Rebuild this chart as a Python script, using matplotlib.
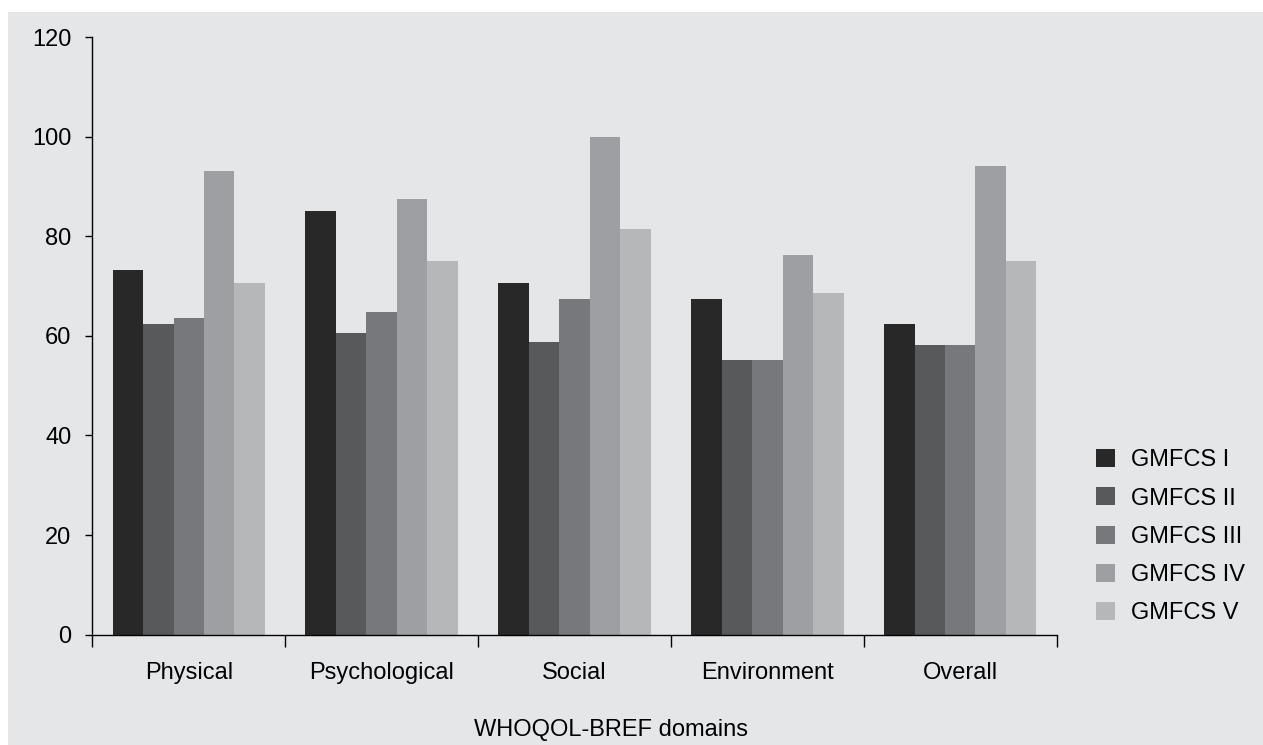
import matplotlib
matplotlib.use("Agg")
import matplotlib.pyplot as plt
import numpy as np
from matplotlib.patches import Rectangle

domains = ["Physical", "Psychological", "Social", "Environment", "Overall"]
series_names = ["GMFCS I", "GMFCS II", "GMFCS III", "GMFCS IV", "GMFCS V"]
gmfcs_1 = [73.2, 85.1, 70.6, 67.4, 62.3]
gmfcs_2 = [62.3, 60.5, 58.7, 55.1, 58.1]
gmfcs_3 = [63.6, 64.8, 67.4, 55.1, 58.1]
gmfcs_4 = [93.0, 87.5, 100.0, 76.2, 94.2]
gmfcs_5 = [70.6, 75.0, 81.5, 68.6, 75.0]
series_values = [gmfcs_1, gmfcs_2, gmfcs_3, gmfcs_4, gmfcs_5]
colors = ["#282828", "#58595b", "#77787b", "#9e9fa3", "#b6b7b9"]
y_ticks = [0, 20, 40, 60, 80, 100, 120]

plt.rcParams['font.family'] = ['Liberation Sans', 'DejaVu Sans']

W, H = 1263, 745
FS = 17
fig = plt.figure(figsize=(W / 100, H / 100), dpi=100, facecolor="white")
bg = "#e5e6e8"
fig.patches.append(Rectangle((8 / W, 0), 1 - 8 / W, 1 - 12 / H,
                             transform=fig.transFigure, facecolor=bg,
                             edgecolor="none", zorder=-10))

ax = fig.add_axes([92.3 / W, 110.3 / H, (1056.7 - 92.3) / W, (708 - 110.3) / H])
ax.set_facecolor("none")

n_groups = len(domains)
n_series = len(series_names)
bar_w = 0.158
centers = np.arange(n_groups) + 0.5
for i, (name, vals, c) in enumerate(zip(series_names, series_values, colors)):
    offs = (i - (n_series - 1) / 2) * bar_w
    ax.bar(centers + offs, vals, width=bar_w, color=c, label=name,
           edgecolor="none", linewidth=0)

ax.set_xlim(0, n_groups)
ax.set_ylim(0, 120)
ax.set_yticks(y_ticks)
ax.tick_params(axis="y", direction="out", length=5, width=1, labelsize=FS,
               pad=10, colors="black")
ax.set_xticks(np.arange(n_groups + 1))
ax.set_xticklabels([])
ax.set_xticks(centers, minor=True)
ax.set_xticklabels(domains, minor=True)
ax.tick_params(axis="x", which="major", direction="out", length=8.5, width=1)
ax.tick_params(axis="x", which="minor", length=0, labelsize=FS, pad=20)

for s in ["top", "right"]:
    ax.spines[s].set_visible(False)
for s in ["left", "bottom"]:
    ax.spines[s].set_linewidth(1)
    ax.spines[s].set_color("black")

fig.text(610.5 / W, 1 - 730 / H, "WHOQOL-BREF domains", ha="center",
         va="center", fontsize=FS)

leg = ax.legend(loc="upper left", bbox_to_anchor=(1096 / W, 1 - 449 / H),
                bbox_transform=fig.transFigure, frameon=False, fontsize=FS,
                handlelength=0.8, handleheight=0.8, handletextpad=0.7,
                labelspacing=0.68, borderpad=0, borderaxespad=0)

fig.savefig("out.png", dpi=100, facecolor="white")
